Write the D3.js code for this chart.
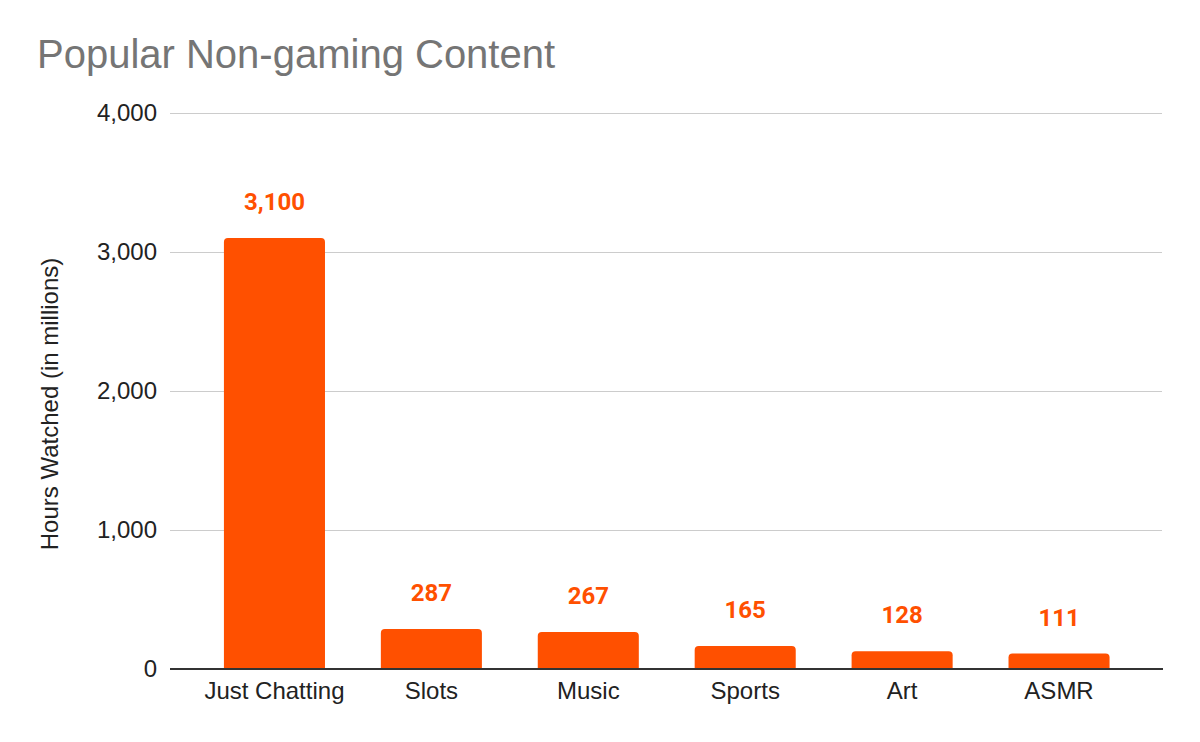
<!DOCTYPE html>
<html><head><meta charset="utf-8">
<script src="https://cdn.jsdelivr.net/npm/d3@7"></script>
<style>body{margin:0;background:#fff}svg{display:block}text{font-family:Arial,"Liberation Sans",sans-serif}</style>
</head><body>
<script>
const categories = ["Just Chatting","Slots","Music","Sports","Art","ASMR"];
const hoursWatched = [3100,287,267,165,128,111];
const yTicks = [0,1000,2000,3000,4000];
const titleText = "Popular Non-gaming Content";
const yTitle = "Hours Watched (in millions)";

const W=1200,H=742;
const svg=d3.select("body").append("svg").attr("width",W).attr("height",H);
const x=d3.scaleBand().domain(categories).range([196,1137.5]).paddingInner(0.356).paddingOuter(0.178);
const y=d3.scaleLinear().domain([0,4000]).range([669,113]);
const fmt=d3.format(",");

svg.append("text").attr("x",37).attr("y",68).attr("font-size",40).attr("fill","#757575").text(titleText);

// gridlines
svg.append("g").selectAll("line").data(yTicks.filter(d=>d>0)).join("line")
  .attr("x1",170).attr("x2",1162).attr("y1",d=>y(d)+0.5).attr("y2",d=>y(d)+0.5)
  .attr("stroke","#cccccc").attr("stroke-width",1);
svg.append("g").selectAll("text").data(yTicks).join("text")
  .attr("x",157).attr("y",d=>y(d)).attr("dy","0.35em").attr("text-anchor","end")
  .attr("font-size",24).attr("fill","#222").text(d=>fmt(d));

svg.append("text").attr("transform",`translate(58,${y(2000)+13}) rotate(-90)`)
  .attr("text-anchor","middle").attr("font-size",24).attr("fill","#222").text(yTitle);

// bars with rounded top corners
const r=4;
svg.append("g").selectAll("path").data(categories).join("path")
  .attr("fill","#ff5000")
  .attr("d",(c,i)=>{const x0=x(c),w=x.bandwidth(),y0=y(hoursWatched[i]),yb=y(0);
    return `M${x0},${yb}V${y0+r}Q${x0},${y0} ${x0+r},${y0}H${x0+w-r}Q${x0+w},${y0} ${x0+w},${y0+r}V${yb}Z`;});

svg.append("g").selectAll("text").data(categories).join("text")
  .attr("x",c=>x(c)+x.bandwidth()/2).attr("y",(c,i)=>y(hoursWatched[i])-28)
  .attr("text-anchor","middle").attr("font-size",24).attr("font-weight","bold")
  .attr("fill","#ff5000").style("font-family","Roboto,Arial,sans-serif").text((c,i)=>fmt(hoursWatched[i]));

// baseline
svg.append("line").attr("x1",170).attr("x2",1163).attr("y1",y(0)).attr("y2",y(0))
  .attr("stroke","#333").attr("stroke-width",2);

svg.append("g").selectAll("text").data(categories).join("text")
  .attr("x",c=>x(c)+x.bandwidth()/2).attr("y",699).attr("text-anchor","middle")
  .attr("font-size",24).attr("fill","#222").text(c=>c);
</script>
</body></html>
